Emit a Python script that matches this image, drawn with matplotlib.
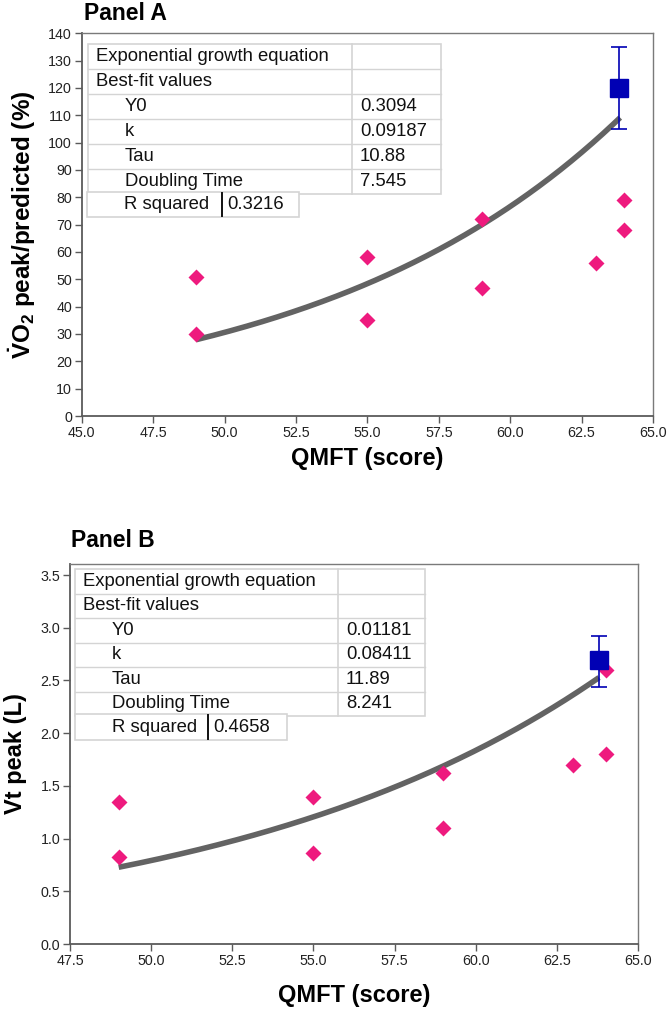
import numpy as np
import matplotlib
matplotlib.use("Agg")
import matplotlib.pyplot as plt
from matplotlib.patches import Rectangle
from matplotlib.lines import Line2D

plt.rcParams['font.family'] = ['Liberation Sans', 'DejaVu Sans']
plt.rcParams['mathtext.fontset'] = 'custom'
plt.rcParams['mathtext.rm'] = 'Liberation Sans:bold'
plt.rcParams['mathtext.bf'] = 'Liberation Sans:bold'
plt.rcParams['mathtext.it'] = 'Liberation Sans:bold'

# ---------------- data ----------------
# Panel A
a_x = [49, 49, 55, 55, 59, 59, 63, 64, 64]
a_y = [51, 30, 58, 35, 72, 47, 56, 79, 68]
a_mean_x = [63.8]
a_mean_y = [120]
a_err_lo = [15]
a_err_hi = [15]
a_Y0 = 0.3094
a_k = 0.09187
a_fit_range = [49, 63.85]
a_table_labels = ["Exponential growth equation", "Best-fit values", "Y0", "k", "Tau", "Doubling Time"]
a_table_values = ["", "", "0.3094", "0.09187", "10.88", "7.545"]
a_r2 = "0.3216"
a_xticks = [45.0, 47.5, 50.0, 52.5, 55.0, 57.5, 60.0, 62.5, 65.0]
a_yticks = list(range(0, 141, 10))

# Panel B
b_x = [49, 49, 55, 55, 59, 59, 63, 64, 64]
b_y = [1.35, 0.83, 1.39, 0.86, 1.62, 1.10, 1.70, 1.80, 2.60]
b_mean_x = [63.8]
b_mean_y = [2.69]
b_err_lo = [0.25]
b_err_hi = [0.23]
b_Y0 = 0.01181
b_k = 0.08411
b_fit_range = [49, 63.8]
b_table_labels = ["Exponential growth equation", "Best-fit values", "Y0", "k", "Tau", "Doubling Time"]
b_table_values = ["", "", "0.01181", "0.08411", "11.89", "8.241"]
b_r2 = "0.4658"
b_xticks = [47.5, 50.0, 52.5, 55.0, 57.5, 60.0, 62.5, 65.0]
b_yticks = [0.0, 0.5, 1.0, 1.5, 2.0, 2.5, 3.0, 3.5]

# ---------------- style ----------------
W, H = 669, 1013
PINK = '#EE1A7E'
BLUE = '#0000B4'
CURVE = '#636363'
GRID = '#D4D4D4'
TFS = 13.3

fig = plt.figure(figsize=(W / 100, H / 100), dpi=100)


def fx(x):
    return x / W


def fy(y):
    return 1 - y / H


def add_axes_px(l, t, r, b):
    return fig.add_axes([fx(l), fy(b), (r - l) / W, (b - t) / H])


def style_axes(ax):
    for s in ['left', 'bottom']:
        ax.spines[s].set_color('#5a5a5a')
        ax.spines[s].set_linewidth(1.3)
    for s in ['top', 'right']:
        ax.spines[s].set_color('#7a7a7a')
        ax.spines[s].set_linewidth(1.0)
    ax.tick_params(axis='both', direction='out', length=5, width=1.0,
                   color='#5a5a5a', labelsize=10.3, labelcolor='#222222', pad=2)


def draw_table(left, top, split, right, rowh, labels, values, r2box, r2val):
    n = len(labels)
    bottom = top + rowh * n
    fig.patches.append(Rectangle((fx(left), fy(bottom)), (right - left) / W, rowh * n / H,
                                 transform=fig.transFigure, facecolor='white',
                                 edgecolor=GRID, linewidth=1.2, zorder=5))
    for i in range(1, n):
        yy = top + rowh * i
        fig.lines.append(Line2D([fx(left), fx(right)], [fy(yy), fy(yy)],
                                transform=fig.transFigure, color=GRID, lw=1.0, zorder=6))
    fig.lines.append(Line2D([fx(split), fx(split)], [fy(top), fy(bottom)],
                            transform=fig.transFigure, color=GRID, lw=1.2, zorder=6))
    for i, (lab, val) in enumerate(zip(labels, values)):
        yc = top + rowh * (i + 0.5)
        indent = 8 if i < 2 else 37
        fig.text(fx(left + indent), fy(yc), lab, fontsize=TFS, ha='left', va='center',
                 color='#111111', zorder=7)
        if val:
            fig.text(fx(split + 8), fy(yc), val, fontsize=TFS, ha='left', va='center',
                     color='#111111', zorder=7)
    # R squared box
    rl, rt, rr, rb, rdiv = r2box
    fig.patches.append(Rectangle((fx(rl), fy(rb)), (rr - rl) / W, (rb - rt) / H,
                                 transform=fig.transFigure, facecolor='white',
                                 edgecolor=GRID, linewidth=1.2, zorder=8))
    fig.lines.append(Line2D([fx(rdiv), fx(rdiv)], [fy(rt + 1), fy(rb - 1)],
                            transform=fig.transFigure, color='#111111', lw=1.4, zorder=9))
    yc = (rt + rb) / 2
    fig.text(fx(rl + 37), fy(yc), "R squared", fontsize=TFS, ha='left', va='center',
             color='#111111', zorder=10)
    fig.text(fx(rdiv + 5), fy(yc), r2val, fontsize=TFS, ha='left', va='center',
             color='#111111', zorder=10)


def draw_panel(ax, xs, ys, mx, my, elo, ehi, Y0, k, frange, xlim, ylim, xticks, yticks, fmt):
    xf = np.linspace(frange[0], frange[1], 200)
    ax.plot(xf, Y0 * np.exp(k * xf), color=CURVE, lw=4.0, solid_capstyle='butt', zorder=3)
    ax.plot(xs, ys, linestyle='none', marker='D', ms=7.8, color=PINK, mec='none', zorder=4)
    ax.errorbar(mx, my, yerr=[elo, ehi], fmt='s', ms=13, color=BLUE, mec=BLUE,
                ecolor=BLUE, elinewidth=1.2, capsize=5.5, capthick=1.2, zorder=5)
    ax.set_xlim(*xlim)
    ax.set_ylim(*ylim)
    ax.set_xticks(xticks)
    ax.set_xticklabels([f"{t:.1f}" for t in xticks])
    ax.set_yticks(yticks)
    ax.set_yticklabels([fmt(t) for t in yticks])
    style_axes(ax)


# Panel A
axA = add_axes_px(81.7, 33.3, 653, 416)
draw_panel(axA, a_x, a_y, a_mean_x, a_mean_y, a_err_lo, a_err_hi, a_Y0, a_k, a_fit_range,
           (45, 65), (0, 140), a_xticks, a_yticks, lambda t: f"{t:d}")
axA.set_xlabel("QMFT (score)", fontsize=17, fontweight='bold', labelpad=5)
axA.set_ylabel(r"$\dot{\mathrm{V}}\mathrm{O}_\mathrm{2}$ peak/predicted (%)", fontsize=17.5,
               fontweight='bold', labelpad=7)
fig.text(fx(84), fy(14), "Panel A", fontsize=16.5, fontweight='bold', ha='left', va='center')
draw_table(88, 44, 352, 441, 25, a_table_labels, a_table_values,
           (87, 192, 299, 217, 222), a_r2)

# Panel B
axB = add_axes_px(70, 564, 638, 944)
draw_panel(axB, b_x, b_y, b_mean_x, b_mean_y, b_err_lo, b_err_hi, b_Y0, b_k, b_fit_range,
           (47.5, 65), (0, 3.605), b_xticks, b_yticks, lambda t: f"{t:.1f}")
axB.set_xlabel("QMFT (score)", fontsize=17, fontweight='bold', labelpad=12)
axB.set_ylabel("Vt peak (L)", fontsize=17, fontweight='bold', labelpad=10)
fig.text(fx(71), fy(540), "Panel B", fontsize=16.5, fontweight='bold', ha='left', va='center')
draw_table(75, 569, 338, 425, 24.5, b_table_labels, b_table_values,
           (75, 714, 287, 740, 208), b_r2)

fig.savefig("out.png", dpi=100)
